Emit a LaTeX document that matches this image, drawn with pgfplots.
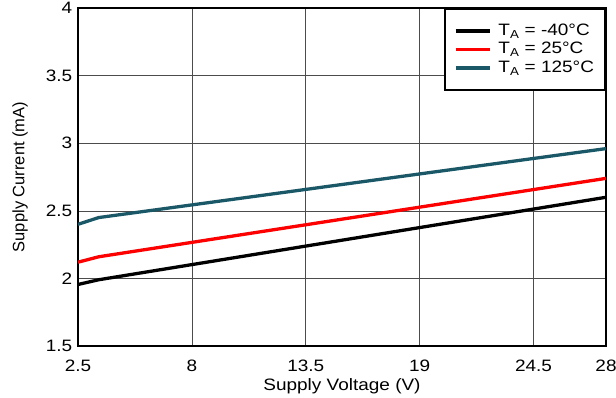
\documentclass[border=0pt]{standalone}
\usepackage{fontspec}
\setmainfont{Liberation Sans}
\usepackage{graphicx}
\usepackage{pgfplots}
\pgfplotsset{compat=1.18}
\definecolor{tealc}{RGB}{26,88,104}
\newcommand{\sx}[1]{\scalebox{1.15}[1]{#1}}
\begin{document}
\fontsize{16.5bp}{19bp}\selectfont
\begin{tikzpicture}
\begin{axis}[
  name=ax,
  scale only axis,
  width=528bp, height=338bp,
  xmin=2.5, xmax=28, ymin=1.5, ymax=4,
  xtick={2.5,8,13.5,19,24.5,28},
  ytick={1.5,2,2.5,3,3.5,4},
  xticklabels={\sx{2.5},\sx{8},\sx{13.5},\sx{19},\sx{24.5},\sx{28}},
  yticklabels={\sx{1.5},\sx{2},\sx{2.5},\sx{3},\sx{3.5},\sx{4}},
  grid=major,
  major grid style={line width=0.6pt, draw=black!70},
  axis line style={line width=2.4pt},
  tick style={draw=none},
  xlabel={\sx{Supply Voltage (V)}},
  ylabel={Supply Current (mA)},
  xlabel style={yshift=4bp},
  ylabel style={yshift=7bp},
  xticklabel style={yshift=-8bp},
  ticklabel style={font=\fontsize{16.5bp}{19bp}\selectfont},
  label style={font=\fontsize{16.5bp}{19bp}\selectfont},
  /pgf/number format/assume math mode=true,
  legend style={at={(1,1)}, anchor=north east, draw=black, line width=2pt,
    font=\fontsize{16.5bp}{19.5bp}\selectfont, inner xsep=9bp, inner ysep=13bp,
    row sep=0.5bp, legend cell align=left},
  legend image code/.code={\draw[#1,line width=3.6pt] (0cm,0cm) -- (1.2cm,0cm);},
]
\addplot[black, line width=3.3pt] coordinates {(2.5,1.955) (3.5,1.99) (28,2.60)};
\addlegendentry{\hspace{5bp}\sx{T\textsubscript{A} = -40°C}}
\addplot[red, line width=3.3pt] coordinates {(2.5,2.12) (3.5,2.16) (28,2.74)};
\addlegendentry{\hspace{5bp}\sx{T\textsubscript{A} = 25°C}}
\addplot[tealc, line width=3.3pt] coordinates {(2.5,2.40) (3.5,2.45) (28,2.96)};
\addlegendentry{\hspace{5bp}\sx{T\textsubscript{A} = 125°C}}
\end{axis}
\pgfresetboundingbox
\path ([xshift=-78bp,yshift=-52bp]ax.south west) rectangle ([xshift=10bp,yshift=8bp]ax.north east);
\end{tikzpicture}
\end{document}
